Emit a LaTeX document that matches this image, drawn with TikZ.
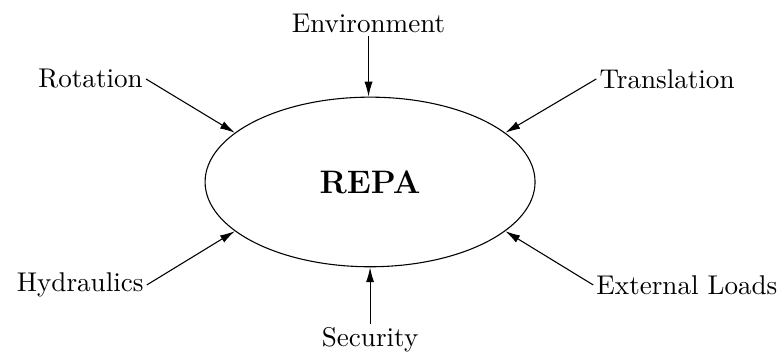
\documentclass[tikz,border=0pt]{standalone}
\usepackage{amsmath,amsfonts,amssymb}
\usetikzlibrary{shapes,arrows,arrows.meta,calc,positioning}

\begin{document}
\begin{tikzpicture}[lbl/.style={inner sep=1pt},>={Latex[length=5.5pt,width=3pt]}]
       \useasboundingbox (-4.80,-2.257) rectangle (5.33,2.36);
       \node[draw,ellipse,minimum width=4.28cm,minimum height=2.20cm,inner sep=0pt] (REPA) at (0,0) {\large\textbf{REPA}};
       \node[lbl] (Env) at (-0.02,2.06) {Environment};
       \node[lbl] (Rot) at (-3.625,1.336) {Rotation};
       \node[lbl] (Tra) at (3.852,1.336) {Translation};
       \node[lbl] (Hyd) at (-3.76,-1.336) {Hydraulics};
       \node[lbl] (Ext) at (4.11,-1.336) {External Loads};
       \node[lbl] (Sec) at (0,-2.05) {Security};
       \draw[->] (Env) -- (Env |- REPA.north);
       \draw[->] (Rot.east) -- (REPA.160);
       \draw[->] (Tra.west) -- (REPA.20);
       \draw[->] (Hyd.east) -- (REPA.200);
       \draw[->] (Ext.west) -- (REPA.340);
       \draw[->] (Sec) -- (REPA.south);
     \end{tikzpicture}
\end{document}
